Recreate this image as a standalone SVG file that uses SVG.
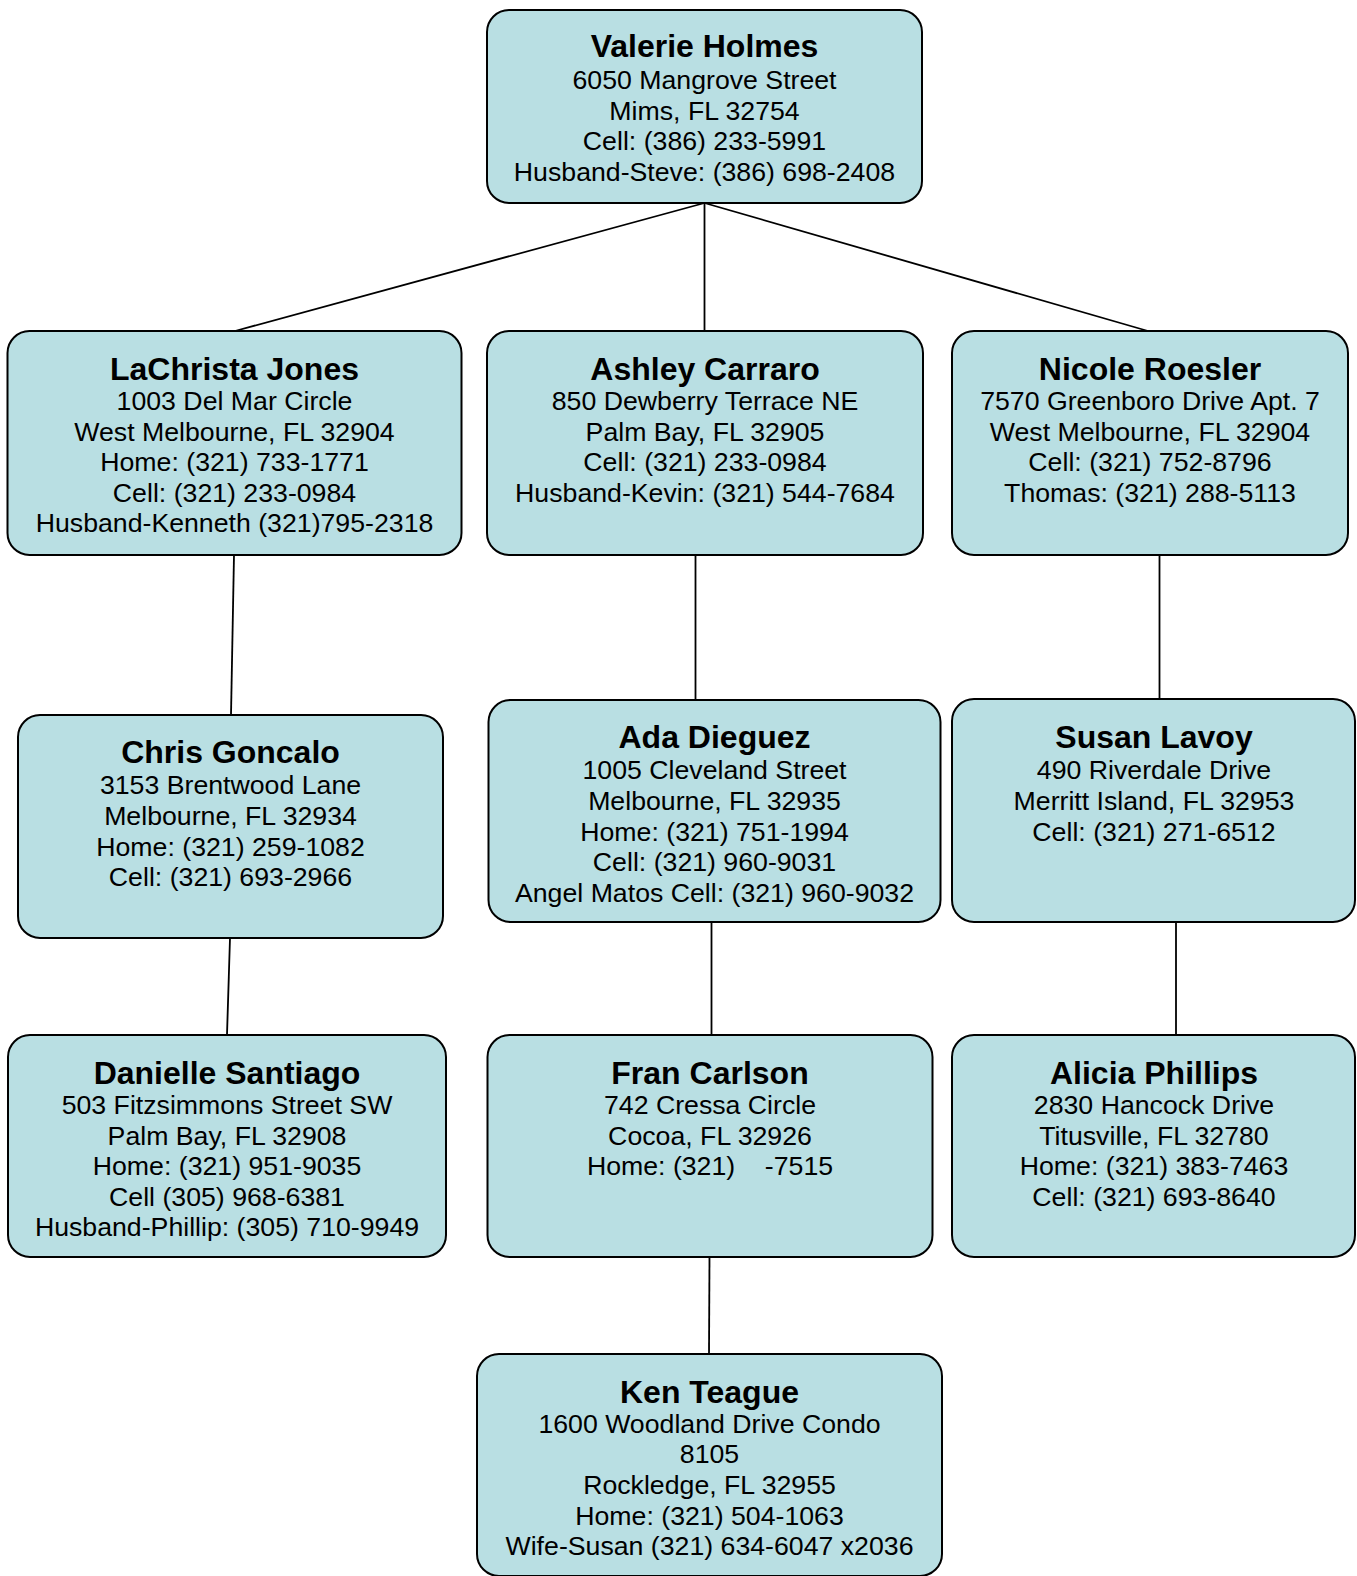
<svg xmlns="http://www.w3.org/2000/svg" width="1357" height="1576" viewBox="0 0 1357 1576">
<style>
.box{fill:#B9DFE3;stroke:#000;stroke-width:2}
.t{font-family:"Liberation Sans",Arial,sans-serif;font-size:32px;font-weight:bold;text-anchor:middle;fill:#000}
.b{font-family:"Liberation Sans",Arial,sans-serif;font-size:26.7px;text-anchor:middle;fill:#000;white-space:pre}
.c line{stroke:#000;stroke-width:1.8}
</style>
<rect width="1357" height="1576" fill="#fff"/>
<g class="c" id="connectors">
<line x1="704.5" y1="203" x2="235" y2="331"/>
<line x1="704.5" y1="203" x2="704.5" y2="331"/>
<line x1="704.5" y1="203" x2="1148" y2="331"/>
<line x1="234" y1="555" x2="231" y2="715"/>
<line x1="230" y1="938" x2="227" y2="1035"/>
<line x1="695.5" y1="555" x2="695.5" y2="700"/>
<line x1="711.5" y1="922" x2="711.5" y2="1035"/>
<line x1="709.5" y1="1257" x2="709" y2="1354"/>
<line x1="1159.5" y1="555" x2="1159.5" y2="700"/>
<line x1="1176" y1="922" x2="1176" y2="1035"/>
</g>
<g id="valerie">
<rect class="box" x="487" y="10" width="435" height="193" rx="22"/>
<text class="t" x="704.5" y="57">Valerie Holmes</text>
<text class="b" x="704.5" y="89">6050 Mangrove Street</text>
<text class="b" x="704.5" y="120">Mims, FL 32754</text>
<text class="b" x="704.5" y="150">Cell: (386) 233-5991</text>
<text class="b" x="704.5" y="180.5">Husband-Steve: (386) 698-2408</text>
</g>
<g id="lachrista">
<rect class="box" x="7.5" y="331" width="454" height="224" rx="22"/>
<text class="t" x="234.5" y="379.5">LaChrista Jones</text>
<text class="b" x="234.5" y="410">1003 Del Mar Circle</text>
<text class="b" x="234.5" y="441">West Melbourne, FL 32904</text>
<text class="b" x="234.5" y="471">Home: (321) 733-1771</text>
<text class="b" x="234.5" y="501.5">Cell: (321) 233-0984</text>
<text class="b" x="234.5" y="532">Husband-Kenneth (321)795-2318</text>
</g>
<g id="ashley">
<rect class="box" x="487" y="331" width="436" height="224" rx="22"/>
<text class="t" x="705" y="379.5">Ashley Carraro</text>
<text class="b" x="705" y="410">850 Dewberry Terrace NE</text>
<text class="b" x="705" y="441">Palm Bay, FL 32905</text>
<text class="b" x="705" y="471">Cell: (321) 233-0984</text>
<text class="b" x="705" y="501.5">Husband-Kevin: (321) 544-7684</text>
</g>
<g id="nicole">
<rect class="box" x="952" y="331" width="396" height="224" rx="22"/>
<text class="t" x="1150" y="379.5">Nicole Roesler</text>
<text class="b" x="1150" y="410">7570 Greenboro Drive Apt. 7</text>
<text class="b" x="1150" y="441">West Melbourne, FL 32904</text>
<text class="b" x="1150" y="471">Cell: (321) 752-8796</text>
<text class="b" x="1150" y="501.5">Thomas: (321) 288-5113</text>
</g>
<g id="chris">
<rect class="box" x="18" y="715" width="425" height="223" rx="22"/>
<text class="t" x="230.5" y="763">Chris Goncalo</text>
<text class="b" x="230.5" y="794">3153 Brentwood Lane</text>
<text class="b" x="230.5" y="825">Melbourne, FL 32934</text>
<text class="b" x="230.5" y="855.5">Home: (321) 259-1082</text>
<text class="b" x="230.5" y="886">Cell: (321) 693-2966</text>
</g>
<g id="ada">
<rect class="box" x="488.5" y="700" width="452" height="222" rx="22"/>
<text class="t" x="714.5" y="748">Ada Dieguez</text>
<text class="b" x="714.5" y="779">1005 Cleveland Street</text>
<text class="b" x="714.5" y="810">Melbourne, FL 32935</text>
<text class="b" x="714.5" y="840.5">Home: (321) 751-1994</text>
<text class="b" x="714.5" y="871">Cell: (321) 960-9031</text>
<text class="b" x="714.5" y="901.5">Angel Matos Cell: (321) 960-9032</text>
</g>
<g id="susan">
<rect class="box" x="952" y="699" width="403" height="223" rx="22"/>
<text class="t" x="1154" y="748">Susan Lavoy</text>
<text class="b" x="1154" y="779">490 Riverdale Drive</text>
<text class="b" x="1154" y="810">Merritt Island, FL 32953</text>
<text class="b" x="1154" y="840.5">Cell: (321) 271-6512</text>
</g>
<g id="danielle">
<rect class="box" x="8" y="1035" width="438" height="222" rx="22"/>
<text class="t" x="227" y="1083.5">Danielle Santiago</text>
<text class="b" x="227" y="1114">503 Fitzsimmons Street SW</text>
<text class="b" x="227" y="1145">Palm Bay, FL 32908</text>
<text class="b" x="227" y="1175">Home: (321) 951-9035</text>
<text class="b" x="227" y="1206">Cell (305) 968-6381</text>
<text class="b" x="227" y="1236">Husband-Phillip: (305) 710-9949</text>
</g>
<g id="fran">
<rect class="box" x="487.5" y="1035" width="445" height="222" rx="22"/>
<text class="t" x="710" y="1083.5">Fran Carlson</text>
<text class="b" x="710" y="1114">742 Cressa Circle</text>
<text class="b" x="710" y="1145">Cocoa, FL 32926</text>
<text class="b" x="710" y="1175">Home: (321)    -7515</text>
</g>
<g id="alicia">
<rect class="box" x="952" y="1035" width="403" height="222" rx="22"/>
<text class="t" x="1154" y="1083.5">Alicia Phillips</text>
<text class="b" x="1154" y="1114">2830 Hancock Drive</text>
<text class="b" x="1154" y="1145">Titusville, FL 32780</text>
<text class="b" x="1154" y="1175">Home: (321) 383-7463</text>
<text class="b" x="1154" y="1206">Cell: (321) 693-8640</text>
</g>
<g id="ken">
<rect class="box" x="477" y="1354" width="465" height="222" rx="22"/>
<text class="t" x="709.5" y="1403">Ken Teague</text>
<text class="b" x="709.5" y="1432.5">1600 Woodland Drive Condo</text>
<text class="b" x="709.5" y="1463">8105</text>
<text class="b" x="709.5" y="1494">Rockledge, FL 32955</text>
<text class="b" x="709.5" y="1525">Home: (321) 504-1063</text>
<text class="b" x="709.5" y="1555">Wife-Susan (321) 634-6047 x2036</text>
</g>
</svg>
